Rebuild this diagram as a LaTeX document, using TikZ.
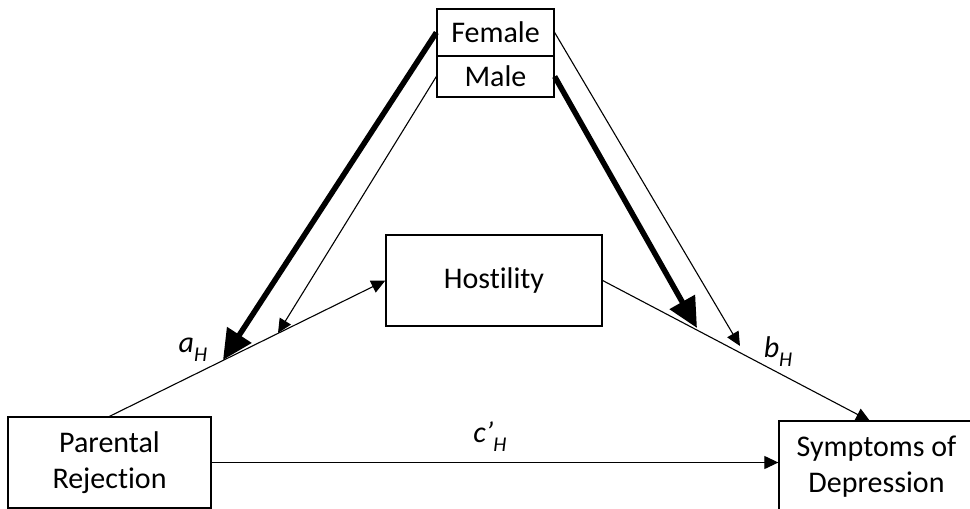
\documentclass[tikz,border=0pt]{standalone}
\usepackage{fontspec}
\setmainfont[Ligatures={NoCommon}]{Carlito}
\usetikzlibrary{arrows.meta}
\begin{document}
\begin{tikzpicture}[x=1pt,y=-1pt,
  box/.style={draw,line width=1.3pt,inner sep=0pt,align=center,font=\fontsize{30}{36}\selectfont},
  thinarr/.style={line width=1.1pt,-{Triangle[length=14pt,width=13pt]}},
  thickarr/.style={line width=5.5pt,-{Triangle[length=30pt,width=28pt]}},
  lab/.style={font=\fontsize{30}{30}\selectfont\itshape}]
\useasboundingbox (0,0) rectangle (970,509);
\node[box,minimum width=117pt,minimum height=47pt] (fem) at (495.5,32.5) {Female};
\node[box,minimum width=117pt,minimum height=41pt] (male) at (495.5,76.5) {Male};
\node[box,minimum width=216pt,minimum height=91pt] (host) at (494,280.5) {Hostility};
\node[box,minimum width=203pt,minimum height=91pt] (pr) at (109.5,462.5) {Parental\\Rejection};
\node[box,minimum width=195pt,minimum height=91pt] (sym) at (876.5,466.5) {Symptoms of\\Depression};
\coordinate (symtop) at (870,421);
\coordinate (tA) at (223,360);
\coordinate (tB) at (278,333);
\coordinate (tC) at (697,328);
\coordinate (tD) at (740,346);
\draw[thinarr] (pr.north) -- (host.west);
\draw[thinarr] (host.east) -- (symtop);
\draw[thinarr] (pr.east) -- (pr.east -| sym.west);
\draw[thickarr] (fem.west) -- (tA);
\draw[thinarr] (male.west) -- (tB);
\draw[thickarr] (male.east) -- (tC);
\draw[thinarr] (fem.east) -- (tD);
\node[lab] (la) at (193,350) {a\raisebox{-0.3em}{\fontsize{21}{21}\selectfont H}};
\node[lab] (lb) at (778,352) {b\raisebox{-0.3em}{\fontsize{21}{21}\selectfont H}};
\node[lab] (lc) at (490,437) {c’\raisebox{-0.3em}{\fontsize{21}{21}\selectfont H}};
\end{tikzpicture}
\end{document}
